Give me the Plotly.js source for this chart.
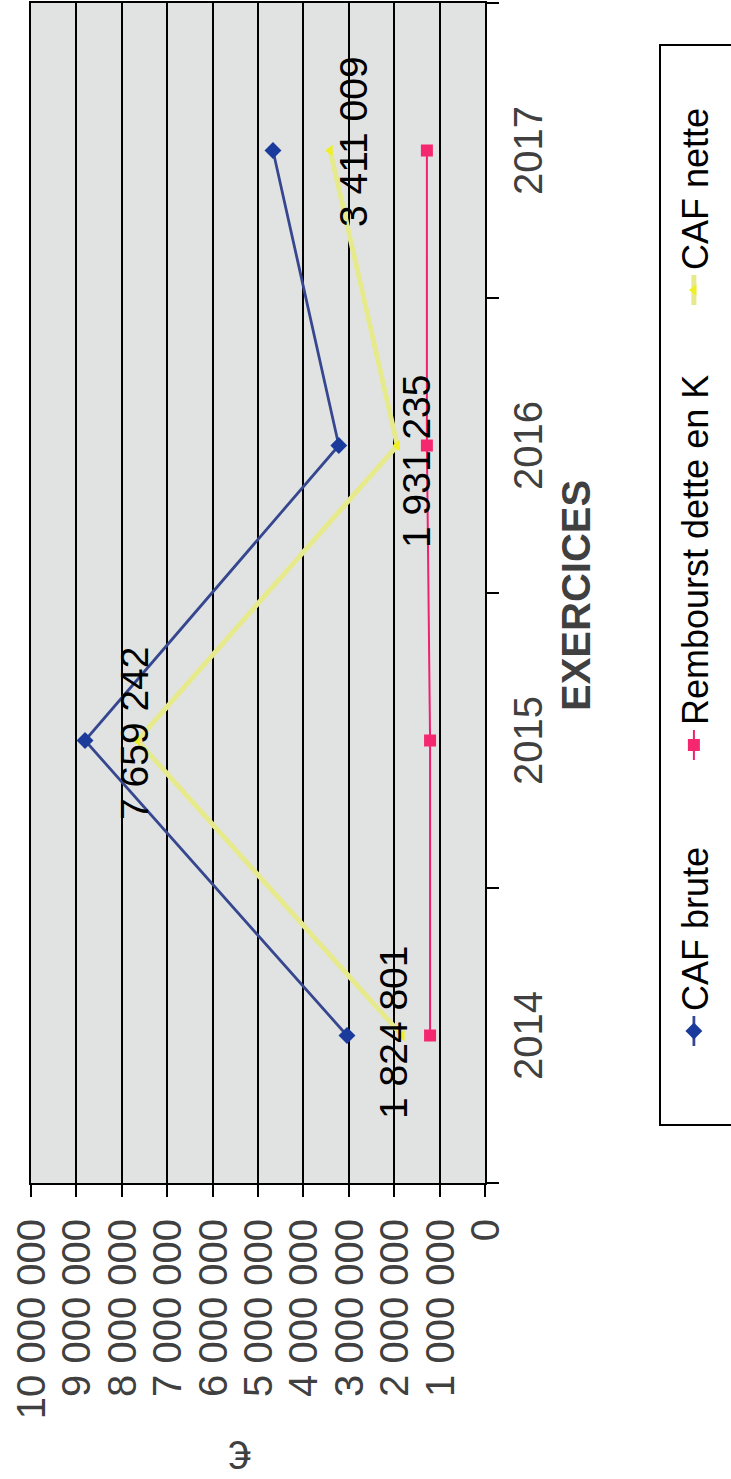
<!DOCTYPE html>
<html>
<head>
<meta charset="utf-8">
<script src="https://cdn.plot.ly/plotly-3.0.1.min.js"></script>
<style>
  html, body { margin: 0; padding: 0; width: 731px; height: 1479px; overflow: hidden; background: #ffffff; }
  /* the chart is laid out landscape, then turned a quarter turn to stand upright on the page */
  #frame { position: absolute; left: 0; top: 0; width: 1479px; height: 731px;
           transform-origin: 0 0; transform: translateY(1479px) rotate(-90deg); }
</style>
</head>
<body>
<div id="frame"></div>
<script>
// Exercices
const years = ['2014', '2015', '2016', '2017'];

// Series values (euros)
const cafBrute      = [3040000, 8810000, 3220000, 4670000];
const remboursement = [1210000, 1210000, 1280000, 1280000];
const cafNette      = [1824801, 7659242, 1931235, 3411009];

const seriesNames = ['CAF brute', 'Rembourst dette en K', 'CAF nette'];

// nudges (px) applied to the value labels of CAF nette: [xshift, yshift]
const labelNudge = [[3, 9], [7, 3], [-16, -19], [9, -23]];

const FONT = 'Liberation Sans, Arial, sans-serif';

function groupDigits(n) {
  return String(Math.round(n)).replace(/\B(?=(\d{3})+(?!\d))/g, ' ');
}

const traces = [
  {
    name: seriesNames[0], x: years, y: cafBrute, type: 'scatter', mode: 'lines+markers',
    line: { color: '#36478f', width: 2.8 },
    marker: { symbol: 'diamond', size: 13, color: '#1a3b9c' },
    legend: 'legend'
  },
  {
    name: seriesNames[1], x: years, y: remboursement, type: 'scatter', mode: 'lines+markers',
    line: { color: '#f0206e', width: 2 },
    marker: { symbol: 'square', size: 12, color: '#f5286f' },
    legend: 'legend2'
  },
  {
    name: seriesNames[2], x: years, y: cafNette, type: 'scatter', mode: 'lines+markers',
    line: { color: '#e6ea8c', width: 5 },
    marker: { symbol: 'triangle-up', size: 10, color: '#eef023' },
    legend: 'legend3'
  }
];

// category axis positions are addressed by index
const valueLabels = years.map((yr, i) => ({
  x: i, y: cafNette[i], xref: 'x', yref: 'y',
  text: groupDigits(cafNette[i]), showarrow: false,
  xanchor: 'center', yanchor: 'middle',
  xshift: labelNudge[i][0], yshift: labelNudge[i][1],
  font: { family: FONT, size: 39, color: '#000000' }
}));

const legendBase = {
  orientation: 'h', xanchor: 'left', yanchor: 'top',
  bgcolor: 'rgba(0,0,0,0)', borderwidth: 0,
  font: { family: FONT, size: 36, color: '#000000' }
};
const legendTop = (485 - 664) / 454;

const layout = {
  width: 1479, height: 731,
  margin: { l: 296, r: 3, t: 31, b: 246, autoexpand: false },
  paper_bgcolor: '#ffffff',
  plot_bgcolor: '#e1e3e3',
  separators: ', ',
  showlegend: true,
  xaxis: {
    type: 'category', categoryarray: years, range: [-0.5, 3.5],
    tickson: 'boundaries', ticks: 'outside', ticklen: 12, tickwidth: 2, tickcolor: '#000000',
    showline: true, mirror: true, linecolor: '#000000', linewidth: 2,
    showgrid: false, zeroline: false,
    ticklabelstandoff: 7,
    tickfont: { family: FONT, size: 40, color: '#404040' }
  },
  yaxis: {
    range: [0, 10000000], dtick: 1000000, tickformat: ',d',
    showgrid: true, gridcolor: '#000000', gridwidth: 2,
    ticks: 'outside', ticklen: 12, tickwidth: 2, tickcolor: '#000000',
    showline: true, mirror: true, linecolor: '#000000', linewidth: 2,
    zeroline: false,
    ticklabelstandoff: 14,
    tickfont: { family: FONT, size: 40, color: '#404040' }
  },
  legend:  Object.assign({}, legendBase, { x: (428 - 296) / 1180, y: legendTop }),
  legend2: Object.assign({}, legendBase, { x: (714 - 296) / 1180, y: legendTop }),
  legend3: Object.assign({}, legendBase, { x: (1169 - 296) / 1180, y: legendTop }),
  shapes: [{
    type: 'rect', xref: 'paper', yref: 'paper',
    x0: (354 - 296) / 1180, x1: (1434 - 296) / 1180,
    y0: (485 - 660) / 454, y1: (485 - 760) / 454,
    line: { color: '#000000', width: 2 }, fillcolor: 'rgba(0,0,0,0)', layer: 'above'
  }],
  annotations: valueLabels.concat([
    {
      text: '€', xref: 'paper', yref: 'paper', x: (24 - 296) / 1180, y: (485 - 240) / 454,
      textangle: -90, showarrow: false, xanchor: 'center', yanchor: 'middle',
      font: { family: FONT, size: 40, color: '#404040' }
    },
    {
      text: '<b>EXERCICES</b>', xref: 'paper', yref: 'paper', x: (883 - 296) / 1180, y: (485 - 576) / 454,
      showarrow: false, xanchor: 'center', yanchor: 'middle',
      font: { family: FONT, size: 40, color: '#404040' }
    }
  ])
};

Plotly.newPlot('frame', traces, layout, { displayModeBar: false, staticPlot: true });
</script>
</body>
</html>
